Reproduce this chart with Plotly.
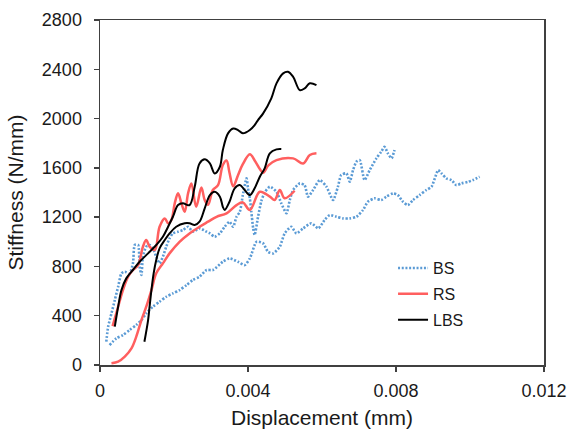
import plotly.graph_objects as go

# ---- data ----
BS1_x = [0.00017,0.00022,0.00031,0.0004,0.00049,0.00058,0.00067,0.0008,0.00089,0.00094,
         0.00103,0.00107,0.00112,0.00116,0.00125,0.00134,0.00143,0.00152,0.00161,0.0017,
         0.00179,0.00188,0.00197,0.00211,0.00224,0.00238,0.00251,0.00269,0.00288,0.00297,
         0.0031,0.00324,0.00337,0.0035,0.0036,0.00369,0.00378,0.00386,0.00396,0.004,
         0.00405,0.00409,0.00414,0.00418,
         0.00427,0.00436,0.00445,0.00459,0.00477,0.0049,0.00504,0.00513,0.00522,0.0054,
         0.00553,0.00562,0.00576,0.00594,0.00612,0.0063,0.00643,0.00652,0.00666,0.00675,
         0.00684,0.00693,0.00702,0.00715,0.00729,0.00747,0.0076,0.00769,0.00778,0.00788,0.00796]
BS1_y = [189,311,419,527,635,744,757,744,825,974,
         974,798,730,879,960,974,947,879,825,879,
         960,1028,1068,1082,1095,1122,1082,1109,1082,1068,
         1041,1068,1122,1163,1122,1203,1244,1379,1515,1434,
         1352,1244,1109,1055,
         1200,1330,1400,1447,1406,1312,1231,1339,1420,1474,
         1460,1366,1420,1501,1447,1339,1447,1542,1555,1487,
         1582,1650,1663,1501,1582,1677,1731,1771,1718,1677,1745]

BS2_x = [0.00026,0.00044,0.00062,0.0008,0.00098,0.00112,0.00125,0.00143,0.00161,0.00179,
         0.00197,0.00215,0.00234,0.00251,0.00269,0.00288,0.00305,0.00332,0.0035,0.00373,
         0.00391,0.00405,0.00423,0.00441,0.00454,0.00468,0.00486,0.00499,0.00517,0.00531,
         0.00549,0.00571,0.0059,0.00607,0.00621,0.00639,0.00657,0.00675,0.00693,0.00711,
         0.00724,0.00742,0.0076,0.00774,0.00792,0.00805,0.00819,0.00832,0.00846,0.00864,
         0.00882,0.00896,0.00905,0.00914,0.00923,0.00936,0.0095,0.00963,0.00977,0.00995,
         0.01008,0.01026]
BS2_y = [162,216,243,284,325,365,419,473,514,554,
         581,608,649,690,717,771,771,838,865,838,
         811,865,1000,987,919,906,960,1068,1122,1068,
         1109,1150,1109,1177,1217,1203,1190,1190,1203,1258,
         1325,1352,1339,1366,1393,1379,1325,1298,1339,1379,
         1420,1447,1515,1582,1555,1515,1501,1460,1474,1487,
         1501,1528]

RS1_x = [0.00034,0.00049,0.00062,0.00076,0.00089,0.00103,0.00116,0.00125,0.00134,0.00148,
         0.00161,0.00175,0.00184,0.00193,0.00202,0.00211,0.0022,0.00229,0.00238,0.00247,
         0.0026,0.00274,0.00283,0.00292,0.00305,0.00319,0.00332,0.00342,0.0035,0.0036,
         0.00373,0.00386,0.00405,0.00418,0.00432,0.00441,0.00455,0.00477,0.00522,0.00549,
         0.00567,0.00585]
RS1_y = [316,473,608,717,771,811,960,1014,960,933,
         1122,1190,1150,1177,1312,1393,1312,1244,1393,1474,
         1284,1440,1339,1300,1420,1460,1623,1660,1560,1450,
         1540,1630,1710,1660,1590,1560,1620,1663,1677,1636,
         1704,1718]

RS2_x = [0.00031,0.00049,0.00067,0.00085,0.00098,0.00112,0.00125,0.00139,0.00152,0.0017,
         0.00188,0.00215,0.00242,0.00269,0.00292,0.00315,0.00342,0.00369,0.00386,0.00405,
         0.00432,0.00459,0.00472,0.00486,0.00499,0.00526]
RS2_y = [14,27,68,135,230,365,473,608,744,825,
         906,1000,1068,1122,1163,1203,1231,1298,1320,1258,
         1406,1366,1339,1420,1353,1414]

LBS1_x = [0.0004,0.00049,0.00058,0.00071,0.00089,0.00107,0.0013,0.00152,0.0017,0.00184,
          0.00197,0.00211,0.00224,0.00242,0.00256,0.00269,0.00283,0.00297,0.0031,0.00324,
          0.00332,0.00346,0.0036,0.00373,0.00386,0.00405,0.00418,0.00427,0.00441,0.00463,
          0.00477,0.00495,0.00508,0.00522,0.0054,0.00553,0.00567,0.00585]
LBS1_y = [311,473,608,703,771,838,906,974,1041,1122,
          1203,1298,1312,1298,1447,1636,1669,1636,1555,1609,
          1745,1880,1920,1907,1880,1907,1947,1988,2042,2164,
          2286,2367,2380,2339,2231,2245,2286,2272]

LBS2_x = [0.0012,0.0013,0.00134,0.00139,0.00145,0.00152,0.00161,0.00175,0.00188,0.00206,
          0.00229,0.00242,0.00256,0.00269,0.00283,0.00297,0.0031,0.00324,0.00332,0.00337,
          0.0035,0.00364,0.00378,0.00391,0.00405,0.00418,0.00432,0.00445,0.00459,0.00477,
          0.0049]
LBS2_y = [189,365,473,608,744,852,947,1014,1068,1122,
          1150,1150,1136,1163,1271,1379,1406,1366,1284,1258,
          1325,1434,1460,1420,1379,1434,1528,1596,1718,1750,
          1753]

x_ticks = [0, 0.004, 0.008, 0.012]
x_tick_labels = ["0", "0.004", "0.008", "0.012"]
y_ticks = [0, 400, 800, 1200, 1600, 2000, 2400, 2800]

BLUE = "#5B9BD5"
RED = "#FF5F5F"
BLACK = "#000000"

fig = go.Figure()

def add(xs, ys, name, color, width, dash, show, smoothing=1.0):
    fig.add_trace(go.Scatter(
        x=xs, y=ys, mode="lines", name=name, legendgroup=name, showlegend=show,
        line=dict(color=color, width=width, dash=dash, shape="spline", smoothing=smoothing),
    ))

add(BS1_x, BS1_y, "BS", BLUE, 2.6, "2px,1.7px", True, 0.6)
add(BS2_x, BS2_y, "BS", BLUE, 2.6, "2px,1.7px", False, 0.6)
add(RS1_x, RS1_y, "RS", RED, 2.5, "solid", True)
add(RS2_x, RS2_y, "RS", RED, 2.5, "solid", False)
add(LBS1_x, LBS1_y, "LBS", BLACK, 2.0, "solid", True)
add(LBS2_x, LBS2_y, "LBS", BLACK, 2.0, "solid", False)

axis_common = dict(
    showgrid=False, zeroline=False, showline=True, mirror=True,
    linecolor="#404040", linewidth=1.5, automargin=False,
    ticks="outside", ticklen=5, tickcolor="#404040", tickwidth=1.5,
    tickfont=dict(family="Liberation Sans, Arial, sans-serif", size=18, color="#1a1a1a"),
)

fig.update_layout(
    width=569, height=434,
    margin=dict(l=100, r=25, t=20, b=69),
    paper_bgcolor="white", plot_bgcolor="white",
    font=dict(family="Liberation Sans, Arial, sans-serif", color="#1a1a1a"),
    xaxis=dict(
        range=[0, 0.012], tickvals=x_ticks, ticktext=x_tick_labels,
        title=dict(text="Displacement (mm)", font=dict(size=21), standoff=10),
        ticklabelstandoff=4,
        **axis_common,
    ),
    yaxis=dict(
        range=[0, 2800], tickvals=y_ticks,
        title=dict(text="Stiffness (N/mm)", font=dict(size=21), standoff=12),
        ticklabelstandoff=8,
        **axis_common,
    ),
    legend=dict(
        x=0.66, y=0.33, xanchor="left", yanchor="top",
        font=dict(size=16), bgcolor="rgba(0,0,0,0)",
        itemwidth=30, tracegroupgap=2, traceorder="grouped",
    ),
    showlegend=True,
)

fig.write_html(
    "out.html",
    config={"displayModeBar": False, "staticPlot": True},
    post_script="document.body.style.margin='0';document.body.style.padding='0';"
                "document.documentElement.style.overflow='hidden';",
)
